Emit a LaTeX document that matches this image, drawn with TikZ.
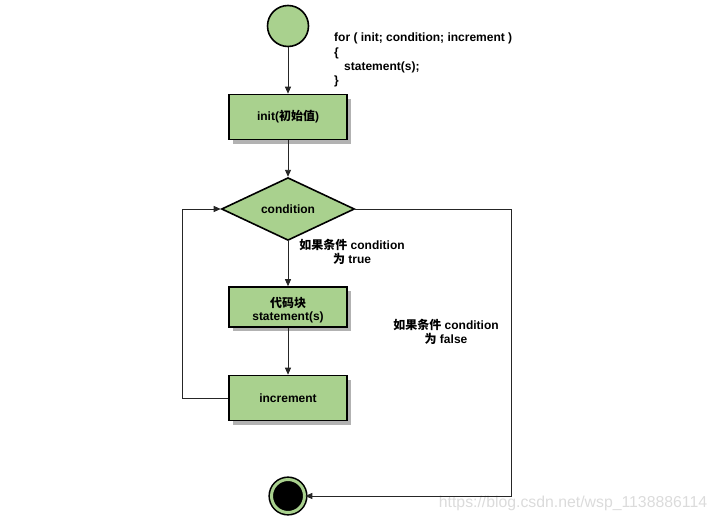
\documentclass[tikz,border=0pt]{standalone}
\usepackage{fontspec}
\setmainfont{Liberation Sans}
\newfontfamily\cjk{Noto Sans CJK SC}
\usetikzlibrary{shapes.geometric,arrows.meta,shadows}
\definecolor{stepgreen}{RGB}{169,209,142}
\begin{document}
\begin{tikzpicture}[x=1pt, y=-1pt,
  every node/.style={font=\fontsize{12}{14.3}\selectfont\bfseries},
  stepbox/.style={draw, line width=1.6pt, fill=stepgreen, minimum width=118pt, minimum height=45pt, align=center,
    drop shadow={shadow xshift=4pt, shadow yshift=-4pt, fill=black!30, opacity=1}},
  flow/.style={-{Triangle[length=7pt, width=6pt]}, line width=0.9pt, black!85}]
\useasboundingbox (0,0) rectangle (719,522);
\node [circle, draw, line width=1.6pt, fill=stepgreen, minimum size=41pt, inner sep=0] (start) at (288,26) {};
\node [anchor=north west, align=left, inner sep=0] (code) at (334,33) {for ( init; condition; increment )\\ \{\\ \hspace*{10pt}statement(s);\\ \}};
\node [stepbox] (init) at (288,117) {init({\cjk 初始值})};
\node [diamond, draw, line width=1.6pt, fill=stepgreen, minimum width=133pt, minimum height=59pt, inner sep=0] (cond) at (288,209) {condition};
\node [stepbox, minimum height=40pt] (body) at (288,307) {};
\node [align=center, inner sep=0] (bodytext) at (288,310) {{\cjk 代码块}\\[-2pt] statement(s)};
\node [stepbox] (incr) at (288,398) {increment};
\node [circle, draw, line width=1.6pt, double=stepgreen, double distance=3pt, fill=black, minimum size=33pt, inner sep=0] (stop) at (288,496) {};
\node [align=center] (labtrue) at (352,252) {{\cjk 如果条件} condition\\ {\cjk 为} true};
\node [align=center] (labfalse) at (446,332) {{\cjk 如果条件} condition\\ {\cjk 为} false};
\node [font=\fontsize{15.8}{18}\selectfont, text=black!14] (mark) at (573,503) {https://blog.csdn.net/wsp\_1138886114};
\coordinate (lcorner) at (182,398);
\coordinate (rcorner) at (511,209);
\draw [flow] (start) -- (init);
\draw [flow] (init) -- (cond);
\draw [flow] (cond) -- (body);
\draw [flow] (body) -- (incr);
\draw [flow] (incr.west) -- (lcorner) |- (cond.west);
\draw [flow] (cond.east) -- (rcorner) |- (stop.east);
\end{tikzpicture}
\end{document}
